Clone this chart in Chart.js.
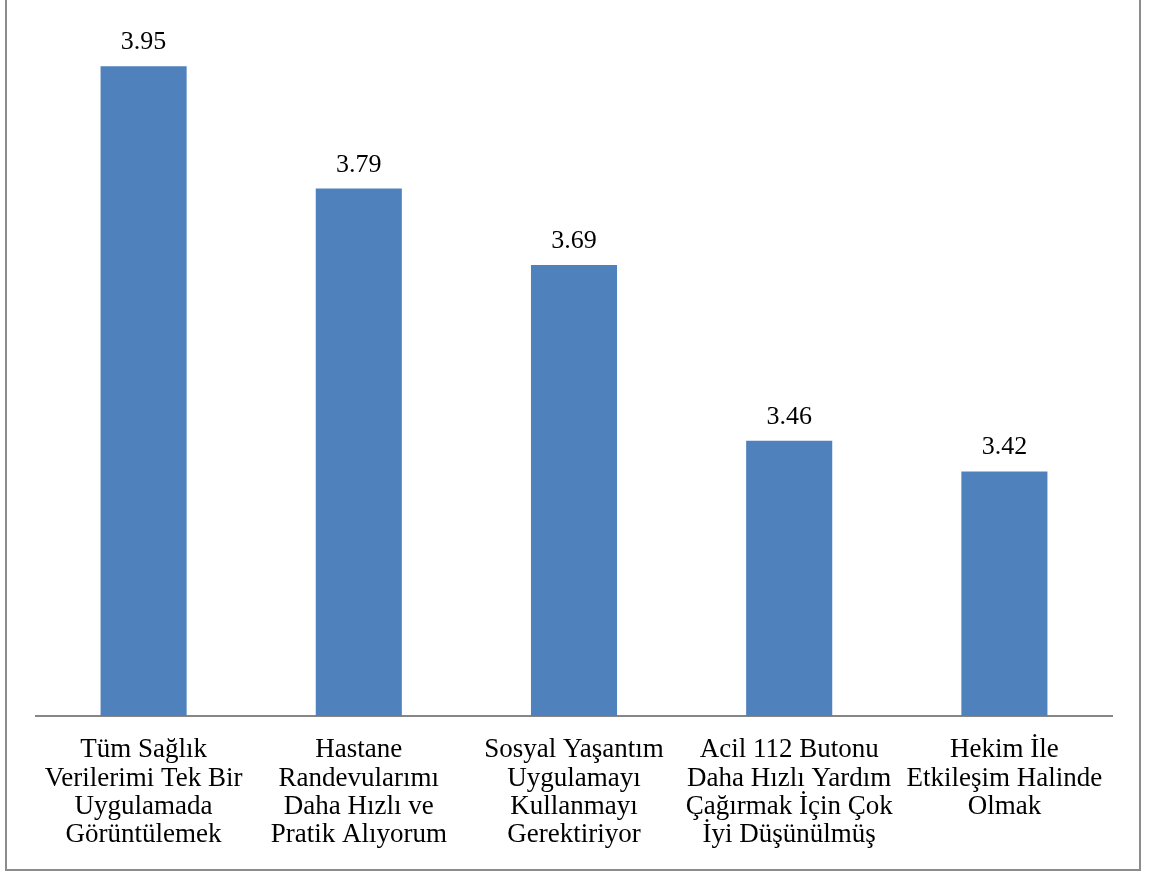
<!DOCTYPE html>
<html>
<head>
<meta charset="utf-8">
<script src="https://cdn.jsdelivr.net/npm/chart.js@4/dist/chart.umd.min.js"></script>
<style>
html,body{margin:0;padding:0;background:#fff;}
canvas{display:block;}
</style>
</head>
<body>
<canvas id="c" width="1152" height="872"></canvas>
<script>
const categories = [
  ["Tüm Sağlık", "Verilerimi Tek Bir", "Uygulamada", "Görüntülemek"],
  ["Hastane", "Randevularımı", "Daha Hızlı ve", "Pratik Alıyorum"],
  ["Sosyal Yaşantım", "Uygulamayı", "Kullanmayı", "Gerektiriyor"],
  ["Acil 112 Butonu", "Daha Hızlı Yardım", "Çağırmak İçin Çok", "İyi Düşünülmüş"],
  ["Hekim İle", "Etkileşim Halinde", "Olmak"]
];
const values = [3.95, 3.79, 3.69, 3.46, 3.42];
const yMin = 3.1;
const yMax = 4.0;

const FONT = "'Liberation Serif', 'Times New Roman', serif";

const frame = {
  id: 'frame',
  beforeDraw(chart) {
    const ctx = chart.ctx;
    ctx.save();
    ctx.fillStyle = '#ffffff';
    ctx.fillRect(0, 0, chart.width, chart.height);
    ctx.strokeStyle = '#8c8c8c';
    ctx.lineWidth = 2;
    ctx.strokeRect(6, -10, 1134, 880);
    ctx.restore();
  }
};

const dataLabels = {
  id: 'dataLabels',
  afterDatasetsDraw(chart) {
    const ctx = chart.ctx;
    ctx.save();
    ctx.font = "26px " + FONT;
    ctx.fillStyle = '#000000';
    ctx.textAlign = 'center';
    ctx.textBaseline = 'alphabetic';
    chart.getDatasetMeta(0).data.forEach((el, i) => {
      ctx.fillText(values[i].toFixed(2), el.x, el.y - 17);
    });
    ctx.restore();
  }
};

new Chart(document.getElementById('c'), {
  type: 'bar',
  data: {
    labels: categories,
    datasets: [{
      data: values,
      backgroundColor: '#4F81BD',
      borderWidth: 0,
      barPercentage: 0.4,
      categoryPercentage: 1.0
    }]
  },
  options: {
    responsive: false,
    animation: false,
    devicePixelRatio: 1,
    layout: { padding: { left: 36, right: 40, top: 28, bottom: 0 } },
    plugins: {
      legend: { display: false },
      tooltip: { enabled: false }
    },
    scales: {
      x: {
        grid: { display: false, drawTicks: false },
        border: { display: true, color: '#868686', width: 2 },
        ticks: {
          color: '#000000',
          font: { family: FONT, size: 27, lineHeight: 1.05 },
          padding: 20,
          maxRotation: 0,
          autoSkip: false
        },
        afterFit(scale) { scale.height = 156; }
      },
      y: {
        display: false,
        min: yMin,
        max: yMax
      }
    }
  },
  plugins: [frame, dataLabels]
});
</script>
</body>
</html>
